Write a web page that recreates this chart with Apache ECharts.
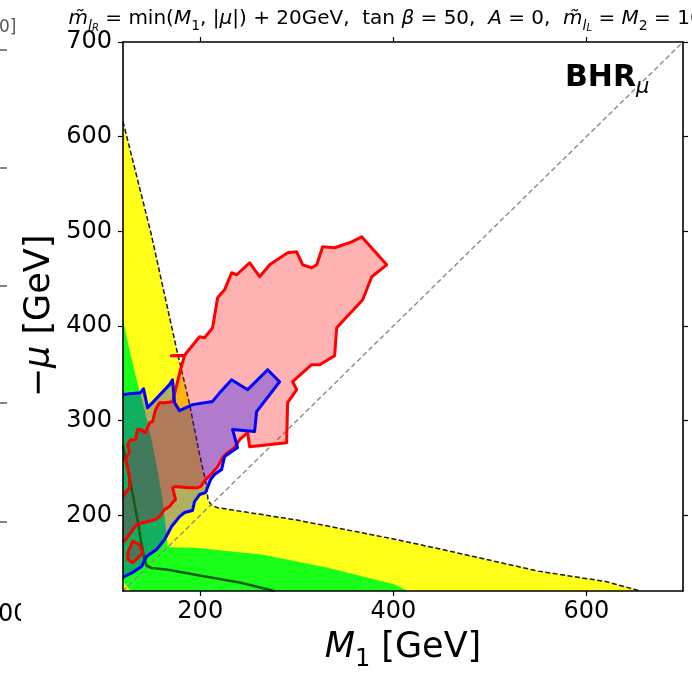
<!DOCTYPE html>
<html>
<head>
<meta charset="utf-8">
<script src="https://cdn.jsdelivr.net/npm/echarts@6/dist/echarts.min.js"></script>
<style>
  html, body { margin: 0; padding: 0; background: #fff; }
  #chart { width: 692px; height: 675px; }
</style>
</head>
<body>
<div id="chart"></div>
<script>
// Axis ticks
const xTicks = [200, 400, 600];
const yTicks = [200, 300, 400, 500, 600, 700];

// Dashed boundary of the yellow band (M1, -mu), upper arm -> corner -> lower arm
const yellowEdge = [
  [120, 616], [149, 498], [176.5, 371], [188.6, 319], [199, 266], [206, 234],
  [208, 217], [211, 211], [218, 208], [300, 195], [400, 175], [450, 164],
  [550, 141], [620, 130], [656, 120]
];

// Boundary of the green band
const greenEdge = [
  [120, 406.6], [126.7, 375], [134, 343.6], [142.3, 311.6], [149.5, 279.9],
  [155.7, 248.2], [160.9, 216.6], [164, 190.2], [166.1, 168], [168.5, 166.3],
  [194.1, 165.6], [263.6, 158.5], [332, 144.5], [401.4, 126.9], [414.9, 120]
];
const greenCorner = [[128, 120], [120, 130]];

// Dark green contour
const darkLine = [
  [120, 273.6], [128.5, 230.3], [135, 195.5], [139.2, 169.1], [142.3, 153.2],
  [144.4, 146.9], [149.5, 144.3], [165.1, 142.7], [199.3, 136.4], [240.8, 129],
  [277, 120]
];

// Blue contour (starts and ends on the left edge)
const blueContour = [
  [120, 327.4], [126.7, 328.5], [138.1, 329.5], [141.3, 333.7], [145.4, 313.7],
  [150.6, 319], [168.2, 338], [171.3, 343.2], [173.4, 319], [178.6, 310.5],
  [192, 316.9], [212.8, 320.3], [221.1, 330.6], [232.5, 343.2], [249.1, 332.7],
  [269.8, 353.8], [282.2, 341.1], [258.4, 309.5], [256.3, 288.4], [233.5, 290.5],
  [238.7, 271.5], [225.2, 262], [222.1, 248.3], [214.8, 243], [210.7, 237.7],
  [205.5, 224], [199.3, 221.9], [194.1, 214.5], [192, 205], [183.8, 202.9],
  [178.6, 198.6], [170.3, 188.1], [163.1, 174.4], [154.8, 163.8], [144.4, 156.4],
  [139.2, 145.8], [129.8, 139.5], [121.6, 135.3], [120, 134.2]
];

// Red contour (starts and ends on the left edge)
const redContour = [
  [120, 219.7], [122.6, 224], [126.7, 229.2], [126.7, 240.9], [124.7, 251.4],
  [122.6, 258.8], [126.7, 267.2], [124.7, 274.6], [127.8, 279.9], [129.8, 277.8],
  [133, 279.9], [135, 290.5], [138.1, 290.5], [143.3, 287.3], [147.5, 297.8],
  [150.6, 298.9], [153.7, 311.6], [157.8, 318.9], [163, 318.9], [171.3, 320],
  [174.4, 332.7], [179.6, 353.8], [183.7, 368.6], [170, 368.6], [183.7, 369.1],
  [199.3, 388.6], [204.5, 387.6], [212.8, 398.1], [218, 429.8], [225.2, 438.2],
  [232.5, 456.2], [237.7, 454.1], [251.1, 466.8], [261.5, 452], [271.9, 464.6],
  [290.5, 477.3], [299.9, 478.3], [306.1, 464.6], [315.4, 461.5], [320.6, 464.6],
  [326.8, 483.6], [339.2, 482.6], [356.9, 488.9], [367.2, 494.2], [393.1, 464.6],
  [377.6, 452], [368.3, 427.7], [341.3, 398.1], [339.2, 368.6], [323.7, 359.1],
  [315.4, 359.1], [295.7, 341.1], [299.9, 332.7], [290.5, 319], [289.5, 276.7],
  [251.1, 272.5], [249.1, 287.3], [240.8, 279.9], [235.6, 271.5], [228.3, 266.2],
  [223.1, 260.9], [218, 251.4], [212.8, 245.1], [205.5, 237.7], [200.3, 230.3],
  [197.2, 229.2], [186.9, 229.2], [174.4, 230.3], [171.3, 229.2], [174.4, 216.6],
  [171.3, 213.4], [168.2, 209.2], [163, 206], [157.8, 198.6], [153.7, 195.5],
  [134, 190.2], [121.6, 172.6], [120, 172.2]
];

// Small closed red island near the lower-left corner
const redIsland = [
  [125, 160.3], [130.2, 172.6], [137.1, 169.1], [140.5, 160.3], [130.2, 149.8],
  [125, 153.2], [125, 160.3]
];

// Reference diagonal M1 = -mu
const diagonal = [[120, 120], [700, 700]];

const FONT = 'DejaVu Sans';

function polygonSeries(name, points, fill, z) {
  return {
    type: 'custom',
    name: name,
    z: z,
    silent: true,
    data: points,
    encode: { x: 0, y: 1 },
    renderItem: function (params, api) {
      if (params.dataIndex !== 0) return null;
      const pts = points.map(function (p) { return api.coord(p); });
      return { type: 'polygon', shape: { points: pts }, style: { fill: fill } };
    }
  };
}

function lineSeries(name, points, color, width, type, z) {
  return {
    type: 'line',
    name: name,
    z: z,
    silent: true,
    symbol: 'none',
    data: points,
    lineStyle: { color: color, width: width, type: type || 'solid', join: 'round' },
    clip: true
  };
}

const axisLineStyle = { color: '#000', width: 1.6 };
const tickStyle = { color: '#000', width: 1.2 };

const chart = echarts.init(document.getElementById('chart'), null, { renderer: 'canvas' });

const option = {
  animation: false,
  backgroundColor: '#fff',
  grid: { left: 123, right: 9, top: 42, bottom: 84 },
  xAxis: [
    {
      type: 'value', min: 120, max: 700, position: 'bottom', z: 20,
      axisLine: { onZero: false, lineStyle: axisLineStyle },
      axisTick: { show: true, customValues: xTicks, length: 5, lineStyle: tickStyle },
      axisLabel: { customValues: xTicks, fontSize: 24, fontFamily: FONT, color: '#000', margin: 9 },
      splitLine: { show: false }
    },
    {
      type: 'value', min: 120, max: 700, position: 'top', z: 20,
      axisLine: { onZero: false, lineStyle: axisLineStyle },
      axisTick: { show: true, customValues: xTicks, length: 5, lineStyle: tickStyle },
      axisLabel: { show: false },
      splitLine: { show: false }
    }
  ],
  yAxis: [
    {
      type: 'value', min: 120, max: 700, position: 'left', z: 20,
      axisLine: { onZero: false, lineStyle: axisLineStyle },
      axisTick: { show: true, customValues: yTicks, length: 5, lineStyle: tickStyle },
      axisLabel: { customValues: yTicks, fontSize: 24, fontFamily: FONT, color: '#000', margin: 11 },
      splitLine: { show: false }
    },
    {
      type: 'value', min: 120, max: 700, position: 'right', z: 20,
      axisLine: { onZero: false, lineStyle: axisLineStyle },
      axisTick: { show: true, customValues: yTicks, length: 5, lineStyle: tickStyle },
      axisLabel: { show: false },
      splitLine: { show: false }
    }
  ],
  series: [
    polygonSeries('yellow', yellowEdge.concat([[120, 120]]), 'rgb(255,255,25)', 1),
    polygonSeries('green', greenEdge.concat(greenCorner), 'rgb(26,255,26)', 2),
    lineSeries('yellow edge', yellowEdge, '#1a1a1a', 1.5, [5, 2.5], 3),
    lineSeries('diagonal', diagonal, '#8a8a8a', 1.4, [5, 3], 3),
    polygonSeries('red area', redContour, 'rgba(255,0,0,0.3)', 4),
    polygonSeries('red island', redIsland, 'rgba(255,0,0,0.3)', 4),
    polygonSeries('blue area', blueContour, 'rgba(0,0,255,0.31)', 5),
    lineSeries('dark contour', darkLine, '#145e14', 2.6, 'solid', 6),
    lineSeries('red edge', redContour, '#ff0000', 3, 'solid', 7),
    lineSeries('red island edge', redIsland, '#ff0000', 3, 'solid', 7),
    lineSeries('blue edge', blueContour, '#0000ff', 3, 'solid', 8)
  ],
  graphic: [
    {
      type: 'text', x: 403, y: 19, z: 30,
      style: {
        text: '{i|m̃}{si|l}{ss|R}{t| = min(}{i|M}{s|1}{t|, |}{i|μ}{t||) + 20GeV,  tan}{i| β}{t| = 50,  }{i|A}{t| = 0,  }{i|m̃}{si|l}{ss|L}{t| = }{i|M}{s|2}{t| = 10TeV}',
        align: 'center', verticalAlign: 'middle',
        rich: {
          t: { fontSize: 20, fontFamily: FONT, fill: '#000', lineHeight: 28 },
          i: { fontSize: 20, fontFamily: FONT, fontStyle: 'italic', fill: '#000', lineHeight: 28 },
          si: { fontSize: 14, fontFamily: FONT, fontStyle: 'italic', fill: '#000', verticalAlign: 'bottom', lineHeight: 8 },
          ss: { fontSize: 10, fontFamily: FONT, fontStyle: 'italic', fill: '#000', verticalAlign: 'bottom', lineHeight: 4 },
          s: { fontSize: 14, fontFamily: FONT, fill: '#000', verticalAlign: 'bottom', lineHeight: 8 }
        }
      }
    },
    {
      type: 'text', x: 565, y: 78, z: 30,
      style: {
        text: '{b|BHR}{s|μ}',
        align: 'left', verticalAlign: 'middle',
        rich: {
          b: { fontSize: 30, fontFamily: FONT, fontWeight: 'bold', fill: '#000', lineHeight: 40 },
          s: { fontSize: 21, fontFamily: FONT, fontStyle: 'italic', fill: '#000', verticalAlign: 'bottom', lineHeight: 8 }
        }
      }
    },
    {
      type: 'text', x: 403, y: 648, z: 30,
      style: {
        text: '{i|M}{s|1}{t| [GeV]}',
        align: 'center', verticalAlign: 'middle',
        rich: {
          t: { fontSize: 35, fontFamily: FONT, fill: '#000', lineHeight: 48 },
          i: { fontSize: 35, fontFamily: FONT, fontStyle: 'italic', fill: '#000', lineHeight: 48 },
          s: { fontSize: 24, fontFamily: FONT, fill: '#000', verticalAlign: 'bottom', lineHeight: 12 }
        }
      }
    },
    {
      type: 'text', x: 40, y: 316, z: 30, rotation: Math.PI / 2,
      style: {
        text: '{t|−}{i|μ}{t| [GeV]}',
        align: 'center', verticalAlign: 'middle',
        rich: {
          t: { fontSize: 35, fontFamily: FONT, fill: '#000', lineHeight: 44 },
          i: { fontSize: 35, fontFamily: FONT, fontStyle: 'italic', fill: '#000', lineHeight: 44 }
        }
      }
    },
    // edge of the neighbouring panel on the left
    { type: 'text', x: -1, y: 28, z: 30, style: { text: '0]', fontSize: 17, fontFamily: FONT, fill: '#555', verticalAlign: 'middle' } },
    { type: 'line', z: 30, shape: { x1: 0, y1: 50, x2: 7, y2: 50 }, style: { stroke: '#333', lineWidth: 1.2 } },
    { type: 'line', z: 30, shape: { x1: 0, y1: 168, x2: 7, y2: 168 }, style: { stroke: '#333', lineWidth: 1.2 } },
    { type: 'line', z: 30, shape: { x1: 0, y1: 286, x2: 7, y2: 286 }, style: { stroke: '#333', lineWidth: 1.2 } },
    { type: 'line', z: 30, shape: { x1: 0, y1: 403, x2: 7, y2: 403 }, style: { stroke: '#333', lineWidth: 1.2 } },
    { type: 'line', z: 30, shape: { x1: 0, y1: 522, x2: 7, y2: 522 }, style: { stroke: '#333', lineWidth: 1.2 } },
    { type: 'text', x: -2, y: 615, z: 30, style: { text: '00', fontSize: 24, fontFamily: FONT, fill: '#000', verticalAlign: 'middle' } },
    { type: 'rect', z: 31, shape: { x: 21, y: 600, width: 14, height: 30 }, style: { fill: '#fff' } }
  ]
};

chart.setOption(option);
</script>
</body>
</html>
